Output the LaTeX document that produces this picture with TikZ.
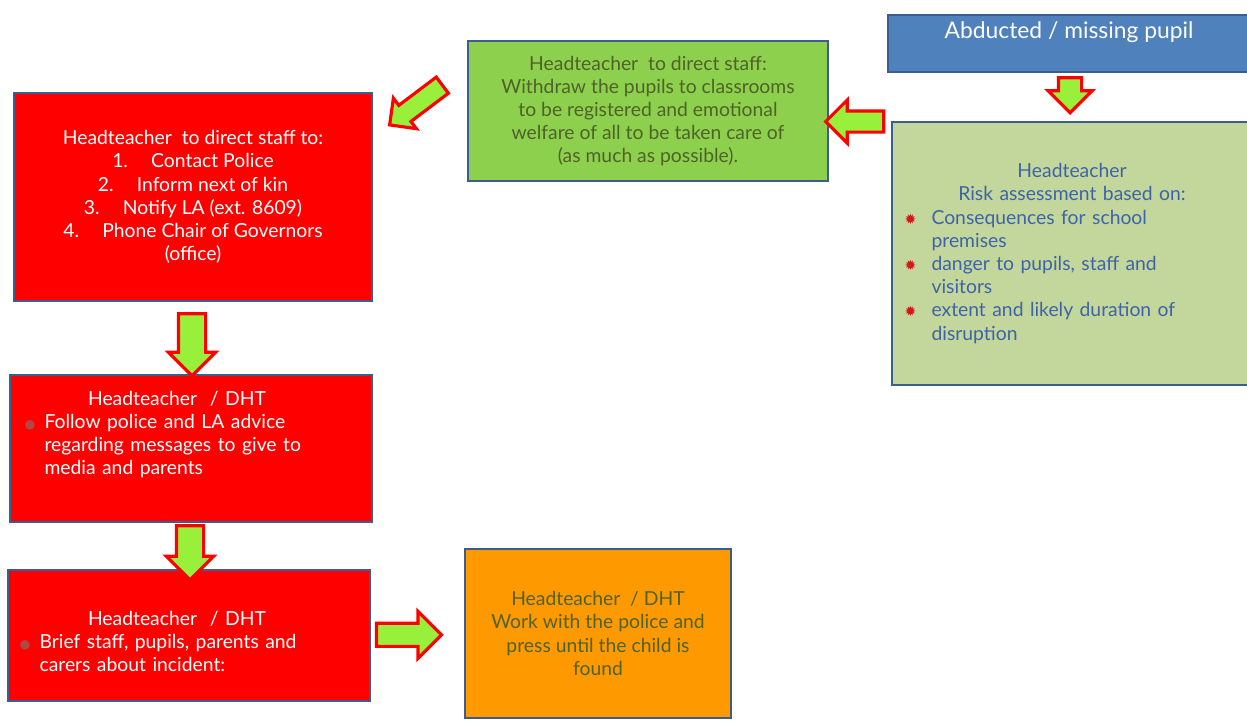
\documentclass[tikz,border=0pt]{standalone}
\usepackage{fontspec}
\setmainfont{Lato}
\newfontfamily\symfont{DejaVu Sans}
\usepackage{xcolor}
\usetikzlibrary{shapes.arrows, positioning, calc}

\definecolor{boxline}{HTML}{3B5E8C}
\definecolor{topblue}{HTML}{4F81BD}
\definecolor{riskgreen}{HTML}{C3D69B}
\definecolor{staffgreen}{HTML}{8DD04E}
\definecolor{alertred}{HTML}{FF0000}
\definecolor{pressorange}{HTML}{FF9900}
\definecolor{olivetext}{HTML}{4F6228}
\definecolor{riskblue}{HTML}{3E64A8}
\definecolor{arrowgreen}{HTML}{99F03A}
\definecolor{bulred}{HTML}{D01818}
\definecolor{dotred}{HTML}{B04848}

\newcommand{\starbul}{\makebox[0.54cm][l]{\textcolor{bulred}{\symfont\footnotesize ✹}}}
\newcommand{\dotbul}{\makebox[0.4cm][l]{\textcolor{dotred}{\symfont\scriptsize ●}}}

\begin{document}
\begin{tikzpicture}[
  x=0.02cm, y=-0.02cm,
  font=\fontsize{11}{13.2}\selectfont,
  box/.style={
    draw=boxline,
    line width=1.6pt,
    inner sep=0pt,
    outer sep=0pt
  },
  txt/.style={
    inner sep=0pt
  },
  barrow/.style={
    single arrow,
    draw=alertred,
    line width=1.8pt,
    fill=arrowgreen,
    inner xsep=0pt,
    inner ysep=0.2cm,
    single arrow head extend=0.22cm
  }
]
\useasboundingbox (0,0) rectangle (1247,720);

% Boxes
\node [box, fill=topblue, minimum width=7.24cm, minimum height=1.14cm] (blue) at (1069,43.5) {};
\node [box, fill=riskgreen, minimum width=7.2cm, minimum height=5.26cm,
       text width=6.7cm, align=left, text=riskblue] (risk) at (1072,253.5)
  {{\centering Headteacher\\Risk assessment based on:\par}
   \starbul Consequences for school\\
   \hspace*{0.54cm}premises\\
   \starbul danger to pupils, staff and\\
   \hspace*{0.54cm}visitors\\
   \starbul extent and likely duration of\\
   \hspace*{0.54cm}disruption};
\node [box, fill=staffgreen, minimum width=7.2cm, minimum height=2.8cm,
       align=center, text=olivetext] (green) at (648,111)
  {Headteacher\ \ to direct staff:\\
   Withdraw the pupils to classrooms\\
   to be registered and emotional\\
   welfare of all to be taken care of\\
   (as much as possible).};
\node [box, fill=alertred, minimum width=7.16cm, minimum height=4.16cm,
       align=center, text=white] (red1) at (193,197)
  {Headteacher\ \ to direct staff to:\\
   1.\hspace{1.2em}Contact Police\\
   2.\hspace{1.2em}Inform next of kin\\
   3.\hspace{1.2em}Notify LA (ext. 8609)\\
   4.\hspace{1.2em}Phone Chair of Governors\\
   (office)};
\node [box, fill=alertred, minimum width=7.24cm, minimum height=2.94cm] (red2) at (191,448.5) {};
\node [box, fill=alertred, minimum width=7.24cm, minimum height=2.62cm] (red3) at (189,635.5) {};
\node [box, fill=pressorange, minimum width=5.32cm, minimum height=3.38cm,
       align=center, text=olivetext] (orange) at (598,633.5)
  {Headteacher\ \ / DHT\\
   Work with the police and\\
   press until the child is\\
   found};

% Texts placed inside boxes
\node [txt, text=white, font=\fontsize{13}{15}\selectfont] (bluetxt)
  at ([yshift=0.22cm]blue.center) {Abducted / missing pupil};
\node [txt, text width=6.1cm, align=left, text=white] (red2txt)
  at ([xshift=-0.28cm, yshift=0.28cm]red2.center)
  {{\centering Headteacher\ \ / DHT\par}
   \dotbul Follow police and LA advice\\
   \hspace*{0.4cm}regarding messages to give to\\
   \hspace*{0.4cm}media and parents};
\node [txt, text width=6.3cm, align=left, text=white] (red3txt)
  at ([xshift=-0.24cm, yshift=-0.12cm]red3.center)
  {{\centering Headteacher\ \ / DHT\par}
   \dotbul Brief staff, pupils, parents and\\
   \hspace*{0.4cm}carers about incident:};

% Block arrows
\node [barrow, minimum height=1.32cm, inner ysep=0.17cm, single arrow head extend=0.18cm, rotate=217]
  (a1) at ($(green.west)!0.5!(red1.north east)$) {};
\node [barrow, minimum height=1.16cm, inner ysep=0.18cm, rotate=180]
  (a2) at ([yshift=-0.1cm]$(green.east)!0.5!(risk.north west)$) {};
\node [barrow, minimum height=0.7cm, single arrow head extend=0.21cm, rotate=-90]
  (a3) at ($(blue.south)!0.35!(risk.north)$) {};
\node [barrow, minimum height=1.24cm, inner ysep=0.24cm, single arrow head extend=0.2cm, rotate=-90]
  (a4) at ($(red1.south)!0.5!(red2.north)$) {};
\node [barrow, minimum height=1.08cm, inner ysep=0.24cm, single arrow head extend=0.2cm, rotate=-90]
  (a5) at ($(red2.south)!0.5!(red3.north)$) {};
\node [barrow, minimum height=1.3cm, single arrow head extend=0.24cm]
  (a6) at ($(red3.east)!0.35!(orange.west)$) {};

\end{tikzpicture}
\end{document}
